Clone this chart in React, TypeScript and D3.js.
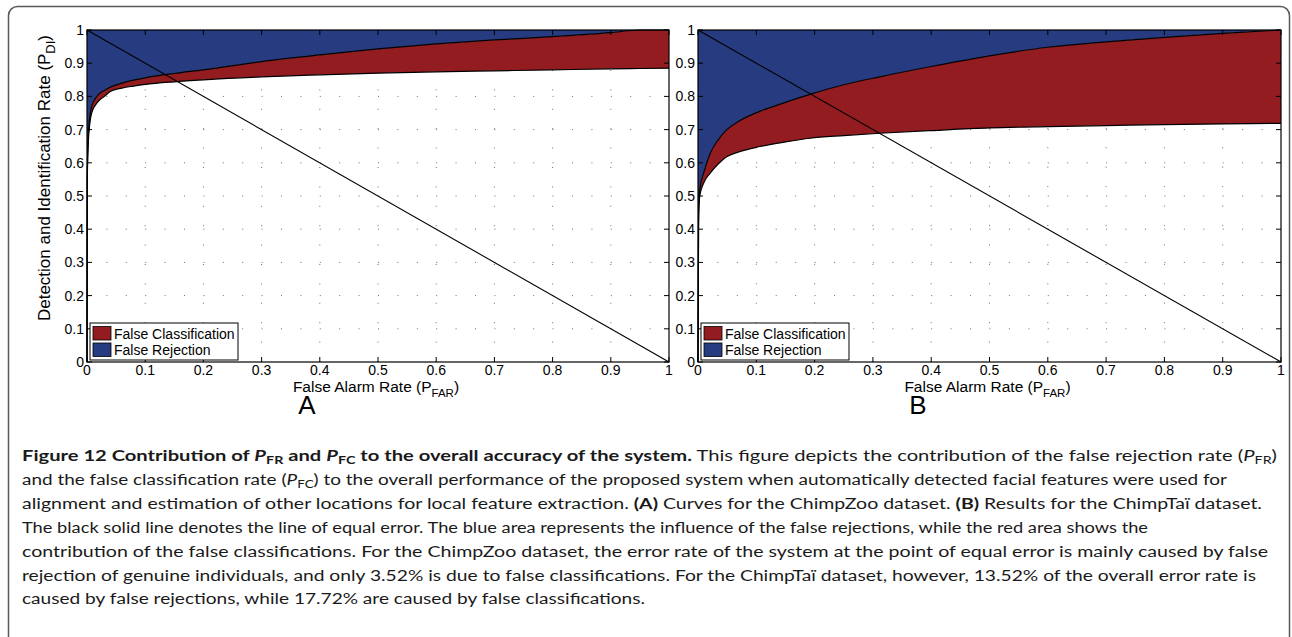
import React from "react";
import * as d3 from "d3";

const tickValues = [0, 0.1, 0.2, 0.3, 0.4, 0.5, 0.6, 0.7, 0.8, 0.9, 1];
const tickLabels = ["0", "0.1", "0.2", "0.3", "0.4", "0.5", "0.6", "0.7", "0.8", "0.9", "1"];

// Panel A (ChimpZoo)
const faRateA = [0, 0.0005, 0.002, 0.005, 0.008, 0.015, 0.022, 0.03, 0.04, 0.06, 0.08, 0.1, 0.15, 0.2, 0.3, 0.4, 0.5, 0.6, 0.7, 0.8, 0.9, 0.95, 1];
const lowerA = [0, 0.55, 0.65, 0.72, 0.75, 0.775, 0.79, 0.8, 0.815, 0.825, 0.831, 0.836, 0.844, 0.85, 0.859, 0.865, 0.87, 0.874, 0.877, 0.88, 0.883, 0.884, 0.885];
const upperA = [0, 0.56, 0.67, 0.74, 0.77, 0.795, 0.81, 0.818, 0.828, 0.84, 0.849, 0.856, 0.869, 0.88, 0.905, 0.925, 0.943, 0.958, 0.97, 0.98, 0.992, 1, 1];

// Panel B (ChimpTaï)
const faRateB = [0, 0.001, 0.003, 0.01, 0.021, 0.035, 0.049, 0.07, 0.106, 0.15, 0.192, 0.25, 0.312, 0.4, 0.5, 0.6, 0.7, 0.8, 0.9, 1];
const lowerB = [0, 0.42, 0.5, 0.54, 0.569, 0.597, 0.618, 0.633, 0.649, 0.663, 0.674, 0.682, 0.689, 0.697, 0.705, 0.709, 0.712, 0.715, 0.717, 0.719];
const upperB = [0, 0.45, 0.52, 0.571, 0.629, 0.67, 0.699, 0.725, 0.755, 0.782, 0.806, 0.835, 0.859, 0.89, 0.922, 0.948, 0.964, 0.978, 0.99, 1];

const legendLabels = ["False Classification", "False Rejection"];
const panelLetters = ["A", "B"];

const BLUE = "#263B80";
const RED = "#931C21";
const PLOT_FONT = "'Liberation Sans', Arial, Helvetica, sans-serif";
const CAP_FONT = "Lato, 'Open Sans', sans-serif";

type PanelProps = {
  left: number;
  right: number;
  top: number;
  bottom: number;
  xs: number[];
  lower: number[];
  upper: number[];
  letter: string;
  letterX: number;
  yLabel: boolean;
};

function Panel({ left, right, top, bottom, xs, lower, upper, letter, letterX, yLabel }: PanelProps) {
  const x = d3.scaleLinear().domain([0, 1]).range([left, right]);
  const y = d3.scaleLinear().domain([0, 1]).range([bottom, top]);
  const idx = xs.map((_, i) => i);
  const blueArea = d3
    .area<number>()
    .x((i) => x(xs[i]))
    .y0((i) => y(upper[i]))
    .y1(() => y(1))
    .curve(d3.curveMonotoneX);
  const redArea = d3
    .area<number>()
    .x((i) => x(xs[i]))
    .y0((i) => y(lower[i]))
    .y1((i) => y(upper[i]))
    .curve(d3.curveMonotoneX);
  const upperLine = d3
    .line<number>()
    .x((i) => x(xs[i]))
    .y((i) => y(upper[i]))
    .curve(d3.curveMonotoneX);
  const lowerLine = d3
    .line<number>()
    .x((i) => x(xs[i]))
    .y((i) => y(lower[i]))
    .curve(d3.curveMonotoneX);
  const dotStep = (x(0.1) - x(0)) / 3;
  const dash = `1 ${dotStep - 1}`;
  const tl = 5;
  const cx = (left + right) / 2;
  const legX = left + 3;
  const legY = bottom - 39;
  return (
    <g>
      {tickValues.slice(1, -1).map((t) => (
        <g key={"g" + t}>
          <line x1={x(t)} x2={x(t)} y1={bottom} y2={top} stroke="#6f6f6f" strokeWidth={1} strokeDasharray={dash} />
          <line x1={left} x2={right} y1={y(t)} y2={y(t)} stroke="#6f6f6f" strokeWidth={1} strokeDasharray={dash} />
        </g>
      ))}
      <path d={blueArea(idx) || ""} fill={BLUE} />
      <path d={redArea(idx) || ""} fill={RED} />
      <path d={upperLine(idx) || ""} fill="none" stroke="#000" strokeWidth={1.2} />
      <path d={lowerLine(idx) || ""} fill="none" stroke="#000" strokeWidth={1.2} />
      <line x1={x(0)} y1={y(1)} x2={x(1)} y2={y(0)} stroke="#000" strokeWidth={1.1} />
      <rect x={left} y={top} width={right - left} height={bottom - top} fill="none" stroke="#000" strokeWidth={1.2} />
      {tickValues.map((t, i) => (
        <g key={"t" + t}>
          <line x1={x(t)} x2={x(t)} y1={bottom} y2={bottom - tl} stroke="#000" />
          <line x1={x(t)} x2={x(t)} y1={top} y2={top + tl} stroke="#000" />
          <line x1={left} x2={left + tl} y1={y(t)} y2={y(t)} stroke="#000" />
          <line x1={right} x2={right - tl} y1={y(t)} y2={y(t)} stroke="#000" />
          <text x={x(t)} y={bottom + 13} textAnchor="middle" fontSize={14} fontFamily={PLOT_FONT} fill="#000">
            {tickLabels[i]}
          </text>
          <text x={left - 3} y={y(t) + 5} textAnchor="end" fontSize={14} fontFamily={PLOT_FONT} fill="#000">
            {tickLabels[i]}
          </text>
        </g>
      ))}
      <rect x={legX} y={legY} width={148} height={37} fill="#fff" stroke="#000" strokeWidth={1} />
      <rect x={legX + 3} y={legY + 3.5} width={18} height={13.5} fill={RED} stroke="#000" strokeWidth={0.8} />
      <rect x={legX + 3} y={legY + 20} width={18} height={13.5} fill={BLUE} stroke="#000" strokeWidth={0.8} />
      <text x={legX + 24} y={legY + 15.5} fontSize={14} fontFamily={PLOT_FONT} fill="#000">
        {legendLabels[0]}
      </text>
      <text x={legX + 24} y={legY + 32} fontSize={14} fontFamily={PLOT_FONT} fill="#000">
        {legendLabels[1]}
      </text>
      <text x={cx - 2} y={bottom + 29.5} textAnchor="middle" fontSize={15.5} fontFamily={PLOT_FONT} fill="#000">
        False Alarm Rate (P
        <tspan fontSize={11.5} dy={5}>FAR</tspan>
        <tspan dy={-5}>)</tspan>
      </text>
      {yLabel && (
        <text
          transform={`translate(${left - 37},${(top + bottom) / 2 - 18}) rotate(-90)`}
          textAnchor="middle"
          fontSize={17}
          fontFamily={PLOT_FONT}
          fill="#000"
        >
          Detection and Identification Rate (P
          <tspan fontSize={13} dy={5}>DI</tspan>
          <tspan dy={-5}>)</tspan>
        </text>
      )}
      <text x={letterX} y={bottom + 52} textAnchor="middle" fontSize={26} fontFamily={PLOT_FONT} fill="#000">
        {letter}
      </text>
    </g>
  );
}

export default function App() {
  const capX = 22;
  const base = 461;
  const lh = 23.9;
  const fs = 15.5;
  const sub = 11;
  const lines: { end: number; content: React.ReactNode }[] = [
    {
      end: 1277,
      content: (
        <>
          <tspan fontWeight={700}>Figure 12 Contribution of </tspan>
          <tspan fontWeight={700} fontStyle="italic">P</tspan>
          <tspan fontWeight={700} fontSize={sub} dy={3}>FR</tspan>
          <tspan fontWeight={700} dy={-3}> and </tspan>
          <tspan fontWeight={700} fontStyle="italic">P</tspan>
          <tspan fontWeight={700} fontSize={sub} dy={3}>FC</tspan>
          <tspan fontWeight={700} dy={-3}> to the overall accuracy of the system.</tspan>
          <tspan> This figure depicts the contribution of the false rejection rate (</tspan>
          <tspan fontStyle="italic">P</tspan>
          <tspan fontSize={sub} dy={3}>FR</tspan>
          <tspan dy={-3}>)</tspan>
        </>
      ),
    },
    {
      end: 1227,
      content: (
        <>
          <tspan>and the false classification rate (</tspan>
          <tspan fontStyle="italic">P</tspan>
          <tspan fontSize={sub} dy={3}>FC</tspan>
          <tspan dy={-3}>) to the overall performance of the proposed system when automatically detected facial features were used for</tspan>
        </>
      ),
    },
    {
      end: 1262,
      content: (
        <>
          <tspan>alignment and estimation of other locations for local feature extraction. </tspan>
          <tspan fontWeight={700}>(A)</tspan>
          <tspan> Curves for the ChimpZoo dataset. </tspan>
          <tspan fontWeight={700}>(B)</tspan>
          <tspan> Results for the ChimpTaï dataset.</tspan>
        </>
      ),
    },
    {
      end: 1148,
      content: (
        <tspan>
          The black solid line denotes the line of equal error. The blue area represents the influence of the false rejections, while the red area shows the
        </tspan>
      ),
    },
    {
      end: 1268,
      content: (
        <tspan>
          contribution of the false classifications. For the ChimpZoo dataset, the error rate of the system at the point of equal error is mainly caused by false
        </tspan>
      ),
    },
    {
      end: 1256,
      content: (
        <tspan>
          rejection of genuine individuals, and only 3.52% is due to false classifications. For the ChimpTaï dataset, however, 13.52% of the overall error rate is
        </tspan>
      ),
    },
    {
      end: 645,
      content: <tspan>caused by false rejections, while 17.72% are caused by false classifications.</tspan>,
    },
  ];
  return (
    <svg width={1292} height={637} style={{ position: "absolute", left: 0, top: 0 }}>
      <rect x={0} y={0} width={1292} height={637} fill="#fff" />
      <rect x={8.5} y={6.5} width={1281} height={680} rx={9} ry={9} fill="none" stroke="#5a5a5a" strokeWidth={1.5} />
      <Panel left={87} right={669} top={30} bottom={362} xs={faRateA} lower={lowerA} upper={upperA} letter={panelLetters[0]} letterX={307} yLabel />
      <Panel left={698} right={1281} top={30} bottom={362} xs={faRateB} lower={lowerB} upper={upperB} letter={panelLetters[1]} letterX={918} yLabel={false} />
      {lines.map((l, i) => (
        <text
          key={i}
          x={capX}
          y={base + i * lh}
          fontSize={fs}
          fontFamily={CAP_FONT}
          fill="#1a1a1a"
          textLength={l.end - capX}
          lengthAdjust="spacingAndGlyphs"
        >
          {l.content}
        </text>
      ))}
    </svg>
  );
}
